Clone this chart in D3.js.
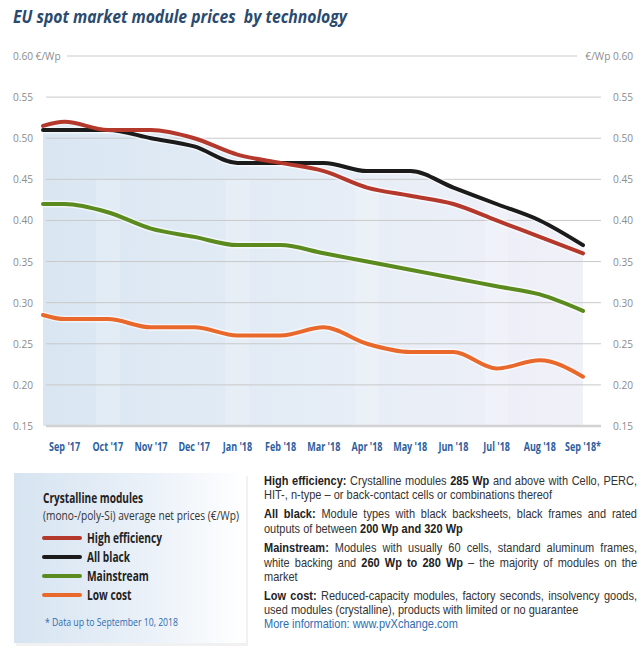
<!DOCTYPE html>
<html><head><meta charset="utf-8">
<script src="https://cdn.jsdelivr.net/npm/d3@7"></script>
<style>
html,body{margin:0;padding:0;background:#fff;}
svg{display:block;}
</style></head>
<body>
<svg id="chart" width="643" height="653"></svg>
<script>
// ---- data ----
const months = ["Sep '17","Oct '17","Nov '17","Dec '17","Jan '18","Feb '18","Mar '18","Apr '18","May '18","Jun '18","Jul '18","Aug '18","Sep '18*"];
// first value = carry-in at the left edge of the plot (before Sep '17)
const highEfficiency = [0.515,0.52,0.51,0.51,0.50,0.48,0.47,0.46,0.44,0.43,0.42,0.40,0.38,0.36];
const allBlack       = [0.51,0.51,0.51,0.50,0.49,0.47,0.47,0.47,0.46,0.46,0.44,0.42,0.40,0.37];
const mainstream     = [0.42,0.42,0.41,0.39,0.38,0.37,0.37,0.36,0.35,0.34,0.33,0.32,0.31,0.29];
const lowCost        = [0.285,0.28,0.28,0.27,0.27,0.26,0.26,0.27,0.25,0.24,0.24,0.22,0.23,0.21];
const yTicks = [0.15,0.20,0.25,0.30,0.35,0.40,0.45,0.50,0.55,0.60];
const seriesNames = ["High efficiency","All black","Mainstream","Low cost"];
const seriesColors = ["#b4382b","#1b1b1b","#5b8a1f","#e9692c"];

const FONT = "'Open Sans','Lato','Noto Sans',sans-serif";
const BODY_FONT = "'Liberation Sans','Arimo',Arial,sans-serif";
const svg = d3.select("#chart").style("font-family", FONT);

// helpers to mimic a condensed face
function fit(sel, w){ sel.attr("textLength", w).attr("lengthAdjust","spacingAndGlyphs"); }
function squeeze(sel, f){ sel.each(function(){ const n=this.getComputedTextLength(); d3.select(this).attr("textLength", n*f).attr("lengthAdjust","spacingAndGlyphs"); }); }

const xs = d3.scaleLinear().domain([-0.5, 12]).range([43, 583]);
const y = d3.scaleLinear().domain([0.15, 0.60]).range([426, 56]);

const defs = svg.append("defs");
const g1 = defs.append("linearGradient").attr("id","plotGrad").attr("x1","0").attr("x2","1").attr("y1","0").attr("y2","0");
g1.append("stop").attr("offset","0").attr("stop-color","#d9e6f2");
g1.append("stop").attr("offset","0.5").attr("stop-color","#e5edf6");
g1.append("stop").attr("offset","1").attr("stop-color","#f0f0f8");
const g2 = defs.append("linearGradient").attr("id","legGrad").attr("x1","0").attr("x2","1").attr("y1","0").attr("y2","0");
g2.append("stop").attr("offset","0").attr("stop-color","#d6e4f1");
g2.append("stop").attr("offset","0.55").attr("stop-color","#e9f0f8");
g2.append("stop").attr("offset","1").attr("stop-color","#ffffff");

// title
const title = svg.append("text").attr("x",13).attr("y",23)
  .attr("font-size",17).attr("font-weight","bold").attr("font-style","italic")
  .attr("fill","#2a4a6e").attr("xml:space","preserve").text("EU spot market module prices  by technology");
fit(title, 334);

const xi = (d,i) => i === 0 ? xs(-0.5) : xs(i-1);
const topVals = highEfficiency.map((v,i)=>Math.max(v, allBlack[i]));

// area fill
svg.append("path")
  .datum(topVals)
  .attr("fill","url(#plotGrad)")
  .attr("d", d3.area().x(xi).y0(y(0.15)).y1(d=>y(d)).curve(d3.curveMonotoneX));

// vertical subtle bands
svg.append("g").selectAll("rect").data(months.filter((d,i)=>i%3===1)).join("rect")
  .attr("x",(d)=>xs(months.indexOf(d))-12).attr("width",24)
  .attr("y",y(0.45)).attr("height",y(0.15)-y(0.45))
  .attr("fill","#ffffff").attr("opacity",0.18);

// gridlines
svg.append("g").selectAll("line").data(yTicks).join("line")
  .attr("x1", d => d===0.60 ? 67 : 46)
  .attr("x2", d => d===0.60 ? 577 : 601)
  .attr("y1", d=>y(d)).attr("y2", d=>y(d))
  .attr("stroke", d => d===0.15 ? "#d2d2d2" : "#c9c9c9")
  .attr("stroke-width", d => d===0.15 ? 2.5 : 1);

// y axis labels
const fmt = d3.format(".2f");
const yl = svg.append("g").selectAll("text").data(yTicks).join("text")
  .attr("x",13).attr("y",d=>y(d)+4)
  .attr("font-size",11.5).attr("fill","#8c8c8c")
  .text(d => d===0.60 ? fmt(d)+" €/Wp" : fmt(d));
const yr = svg.append("g").selectAll("text").data(yTicks).join("text")
  .attr("x",633).attr("y",d=>y(d)+4).attr("text-anchor","end")
  .attr("font-size",11.5).attr("fill","#8c8c8c")
  .text(d => d===0.60 ? "€/Wp "+fmt(d) : fmt(d));
const tf = 20 / yl.filter(d=>d===0.55).node().getComputedTextLength();
squeeze(yl, tf); squeeze(yr, tf);

// x axis labels
const xl = svg.append("g").selectAll("text").data(months).join("text")
  .attr("x",(d,i)=>xs(i)).attr("y",451).attr("text-anchor","middle")
  .attr("font-size",11.5).attr("font-weight","bold").attr("fill","#2d5fa0")
  .text(d=>d);
squeeze(xl, 31 / xl.filter((d,i)=>i===0).node().getComputedTextLength());

// lines
const allSeries = [highEfficiency, allBlack, mainstream, lowCost];
const line = d3.line().x(xi).y(d=>y(d)).curve(d3.curveMonotoneX);
const lg = svg.append("g");
[3,2,1,0].forEach(k => {
  lg.append("path").datum(allSeries[k]).attr("d",line)
    .attr("fill","none").attr("stroke","#ffffff").attr("stroke-opacity",0.6)
    .attr("stroke-width",7).attr("stroke-linejoin","round").attr("stroke-linecap","round");
});
[3,2,1,0].forEach(k => {
  lg.append("path").datum(allSeries[k]).attr("d",line)
    .attr("fill","none").attr("stroke",seriesColors[k])
    .attr("stroke-width",4).attr("stroke-linejoin","round").attr("stroke-linecap","round");
});

// legend box
svg.append("rect").attr("x",16).attr("y",476).attr("width",232).attr("height",170).attr("fill","#e8e8e8").attr("opacity",0.6);
svg.append("rect").attr("x",14).attr("y",473).attr("width",232).attr("height",170).attr("fill","url(#legGrad)");
fit(svg.append("text").attr("x",43).attr("y",503).attr("font-size",13.5).attr("font-weight","bold").attr("fill","#222")
  .text("Crystalline modules"), 100);
fit(svg.append("text").attr("x",43).attr("y",520).attr("font-size",12.5).attr("fill","#333")
  .text("(mono-/poly-Si) average net prices (€/Wp)"), 196);
const leg = svg.append("g").selectAll("g").data(seriesNames).join("g")
  .attr("transform",(d,i)=>`translate(0,${538 + i*19})`);
leg.append("line").attr("x1",44).attr("x2",80).attr("y1",0).attr("y2",0)
  .attr("stroke",(d,i)=>seriesColors[i]).attr("stroke-width",4).attr("stroke-linecap","round");
const lt = leg.append("text").attr("x",87).attr("y",5).attr("font-size",14).attr("font-weight","bold").attr("fill","#222").text(d=>d);
squeeze(lt, 75 / lt.filter((d,i)=>i===0).node().getComputedTextLength());
fit(svg.append("text").attr("x",45).attr("y",626).attr("font-size",11).attr("fill","#2f6db0")
  .text("* Data up to September 10, 2018"), 133);

// description text: condensed via horizontal scale, justified by word placement
const desc = [
  {y:485, just:true, parts:[["High efficiency:",1],[" Crystalline modules ",0],["285 Wp",1],[" and above with Cello, PERC,",0]]},
  {y:499, just:false, parts:[["HIT-, n-type – or back-contact cells or combinations thereof",0]]},
  {y:518, just:true, parts:[["All black:",1],[" Module types with black backsheets, black frames and rated",0]]},
  {y:533, just:false, parts:[["outputs of between ",0],["200 Wp and 320 Wp",1]]},
  {y:552, just:true, parts:[["Mainstream:",1],[" Modules with usually 60 cells, standard aluminum frames,",0]]},
  {y:567, just:true, parts:[["white backing and ",0],["260 Wp to 280 Wp",1],[" – the majority of modules on the",0]]},
  {y:581, just:false, parts:[["market",0]]},
  {y:600, just:true, parts:[["Low cost:",1],[" Reduced-capacity modules, factory seconds, insolvency goods,",0]]},
  {y:614, just:false, parts:[["used modules (crystalline), products with limited or no guarantee",0]]},
  {y:628, just:false, link:true, parts:[["More information: www.pvXchange.com",0]]},
];
const FS = 12.4, SPACE = FS * 0.278;
const dg = svg.append("g").style("font-family", BODY_FONT);
const lines = desc.map(l => {
  const g = dg.append("g");
  const words = [];
  l.parts.forEach(p => p[0].split(" ").filter(w=>w.length).forEach(w => words.push({w, b:p[1]})));
  const nodes = words.map(o => g.append("text").attr("y",0).attr("font-size",FS)
      .attr("font-weight", o.b ? "bold" : "normal")
      .attr("fill", l.link ? "#2f6db0" : (o.b ? "#222" : "#333")).text(o.w));
  const widths = nodes.map(n => n.node().getComputedTextLength());
  return {g, l, nodes, widths};
});
// reference line (HIT-...) is 288px wide in the original
const ref = lines[1];
const refNat = d3.sum(ref.widths) + SPACE * (ref.widths.length - 1);
const sx = 288 / refNat;
lines.forEach(({g,l,nodes,widths}) => {
  g.attr("transform", `translate(264,${l.y}) scale(${sx},1)`);
  const total = d3.sum(widths);
  const gap = l.just ? (373 / sx - total) / (widths.length - 1) : SPACE;
  let xpos = 0;
  nodes.forEach((n,i) => { n.attr("x", xpos); xpos += widths[i] + gap; });
});
</script>
</body></html>
